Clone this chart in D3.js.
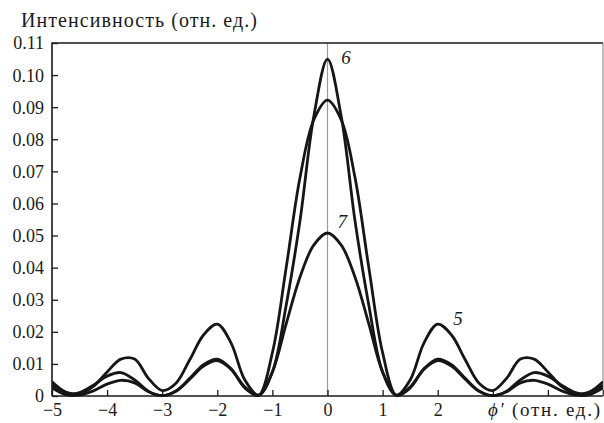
<!DOCTYPE html>
<html>
<head>
<meta charset="utf-8">
<script src="https://cdn.jsdelivr.net/npm/d3@7"></script>
<style>
  body { margin: 0; background: #fff; }
  svg text { font-family: "Liberation Serif", "Times New Roman", Tinos, "DejaVu Serif", "Noto Serif", serif; fill: #1a1a1a; }
</style>
</head>
<body>
<script>
// Data
var phi = [-5, -4.75, -4.5, -4.25, -4, -3.75, -3.5, -3.25, -3, -2.75, -2.5, -2.25, -2, -1.75, -1.5, -1.25, -1, -0.75, -0.5, -0.25,
           0, 0.25, 0.5, 0.75, 1, 1.25, 1.5, 1.75, 2, 2.25, 2.5, 2.75, 3, 3.25, 3.5, 3.75, 4, 4.25, 4.5, 4.75, 5];

var curve5 = [0.0044, 0.0012, 0.0008, 0.0030, 0.0075, 0.0115, 0.0115, 0.0055, 0.0017, 0.0040, 0.0113, 0.0190, 0.0224, 0.0165, 0.0050, 0.0003, 0.0135, 0.0400, 0.0680, 0.0860,
              0.0922, 0.0860, 0.0680, 0.0400, 0.0135, 0.0003, 0.0050, 0.0165, 0.0224, 0.0190, 0.0113, 0.0040, 0.0017, 0.0055, 0.0115, 0.0115, 0.0075, 0.0030, 0.0008, 0.0012, 0.0044];

var curve6 = [0.0034, 0.0005, 0.0011, 0.0034, 0.0062, 0.0073, 0.0050, 0.0015, 0.0001, 0.0016, 0.0055, 0.0098, 0.0115, 0.0085, 0.0025, 0.0002, 0.0075, 0.0283, 0.0545, 0.0870,
              0.1050, 0.0870, 0.0545, 0.0283, 0.0075, 0.0002, 0.0025, 0.0085, 0.0115, 0.0098, 0.0055, 0.0016, 0.0001, 0.0015, 0.0050, 0.0073, 0.0062, 0.0034, 0.0011, 0.0005, 0.0034];

var curve7 = [0.0025, 0.0004, 0.0003, 0.0016, 0.0037, 0.0049, 0.0041, 0.0013, 0.0001, 0.0015, 0.0052, 0.0093, 0.0110, 0.0083, 0.0028, 0.0002, 0.0075, 0.0225, 0.0370, 0.0470,
              0.0508, 0.0470, 0.0370, 0.0225, 0.0075, 0.0002, 0.0028, 0.0083, 0.0110, 0.0093, 0.0052, 0.0015, 0.0001, 0.0013, 0.0041, 0.0049, 0.0037, 0.0016, 0.0003, 0.0004, 0.0025];

var xTicks = [-5, -4, -3, -2, -1, 0, 1, 2, 3, 4, 5];
var yTicks = [0, 0.01, 0.02, 0.03, 0.04, 0.05, 0.06, 0.07, 0.08, 0.09, 0.10, 0.11];

var labels = [
  { name: "6", x: 0.25, y: 0.1035 },
  { name: "7", x: 0.18, y: 0.0525 },
  { name: "5", x: 2.28, y: 0.0222 }
];

var svgWidth = 604;
var svgHeight = 423;

var chartMargin = { top: 43, right: 1, bottom: 27, left: 52 };
var chartWidth = svgWidth - chartMargin.left - chartMargin.right;
var chartHeight = svgHeight - chartMargin.top - chartMargin.bottom;

var serif = "'Liberation Serif', 'Times New Roman', Tinos, 'DejaVu Serif', 'Noto Serif', serif";

var svg = d3.select("body")
  .append("svg")
  .attr("width", svgWidth)
  .attr("height", svgHeight);

var chartGroup = svg.append("g")
  .attr("transform", `translate(${chartMargin.left}, ${chartMargin.top})`);

var x = d3.scaleLinear().domain([-5, 5]).range([0, chartWidth]);
var y = d3.scaleLinear().domain([0, 0.11]).range([chartHeight, 0]);

// clip so the curves stay in the box
svg.append("defs").append("clipPath").attr("id", "clip")
  .append("rect").attr("width", chartWidth).attr("height", chartHeight + 1);

// vertical line at zero
chartGroup.append("line")
  .attr("x1", x(0)).attr("x2", x(0))
  .attr("y1", 0).attr("y2", chartHeight)
  .attr("stroke", "#9a9a9a")
  .attr("stroke-width", 1.2);

// axes (ticks point inward)
var xAxis = chartGroup.append("g")
  .attr("transform", "translate(0," + chartHeight + ")")
  .call(d3.axisBottom(x)
    .tickValues(xTicks)
    .tickSize(-6)
    .tickPadding(6)
    .tickFormat(function(d) { return d > 2 ? "" : d3.format("")(d); }));

var yAxis = chartGroup.append("g")
  .call(d3.axisLeft(y)
    .tickValues(yTicks)
    .tickSize(-6)
    .tickPadding(8)
    .tickFormat(function(d) { return d === 0 ? "0" : d3.format(".2f")(d); }));

[xAxis, yAxis].forEach(function(a) {
  a.attr("font-family", null);
  a.select(".domain").remove();
  a.selectAll(".tick line").attr("stroke", "#1a1a1a").attr("stroke-width", 1.3);
  a.selectAll(".tick text")
    .style("font-family", serif)
    .style("font-size", "18px")
    .attr("fill", "#1a1a1a");
});
yAxis.selectAll(".tick text").attr("dy", "0.33em");
xAxis.selectAll(".tick text").attr("dy", "0.8em");

// frame
chartGroup.append("path")
  .attr("d", "M0," + chartHeight + "V0H" + chartWidth)
  .attr("fill", "none")
  .attr("stroke", "#1a1a1a")
  .attr("stroke-width", 1.6);
chartGroup.append("line")
  .attr("x1", 0).attr("x2", chartWidth)
  .attr("y1", chartHeight).attr("y2", chartHeight)
  .attr("stroke", "#1a1a1a")
  .attr("stroke-width", 1.6);
chartGroup.append("line")
  .attr("x1", chartWidth).attr("x2", chartWidth)
  .attr("y1", 0).attr("y2", chartHeight)
  .attr("stroke", "#777")
  .attr("stroke-width", 1);

// curves
var line = d3.line()
  .x(function(d, i) { return x(phi[i]); })
  .y(function(d) { return y(d); })
  .curve(d3.curveCatmullRom.alpha(0.5));

var curvesGroup = chartGroup.append("g").attr("clip-path", "url(#clip)");
[curve5, curve6, curve7].forEach(function(series) {
  curvesGroup.append("path")
    .attr("d", line(series))
    .attr("fill", "none")
    .attr("stroke", "#161616")
    .attr("stroke-width", 2.8);
});

// curve numbers
chartGroup.selectAll(".curve-label")
  .data(labels)
  .enter()
  .append("text")
  .attr("class", "curve-label")
  .attr("x", function(d) { return x(d.x); })
  .attr("y", function(d) { return y(d.y); })
  .style("font-family", serif)
  .style("font-size", "19px")
  .style("font-style", "italic")
  .text(function(d) { return d.name; });

// y axis title
svg.append("text")
  .attr("x", 21)
  .attr("y", 27)
  .attr("textLength", 236)
  .attr("lengthAdjust", "spacing")
  .style("font-family", serif)
  .style("font-size", "20px")
  .text("Интенсивность (отн. ед.)");

// x axis title
var xTitle = svg.append("text")
  .attr("x", 488)
  .attr("y", 416)
  .attr("textLength", 112)
  .attr("lengthAdjust", "spacing")
  .style("font-family", serif)
  .style("font-size", "19px");
xTitle.append("tspan").style("font-style", "italic").text("ϕ′");
xTitle.append("tspan").text(" (отн. ед.)");
</script>
</body>
</html>
